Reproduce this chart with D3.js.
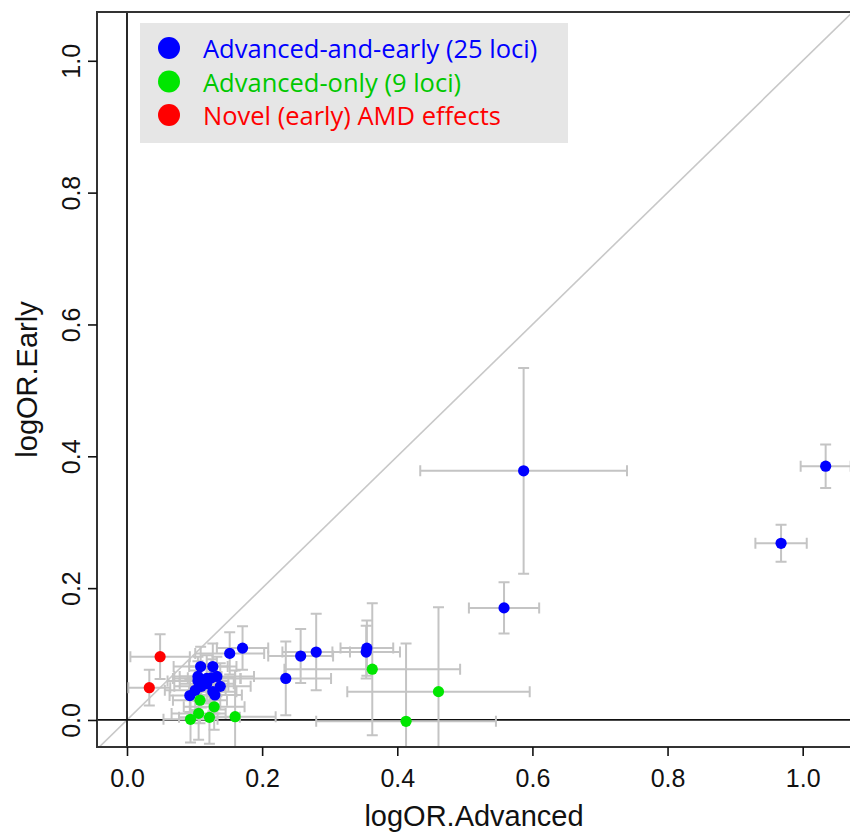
<!DOCTYPE html>
<html><head><meta charset="utf-8">
<script src="https://cdn.jsdelivr.net/npm/d3@7"></script>
<style>body{margin:0;background:#fff}</style>
</head><body>
<svg id="c" width="850" height="832"></svg>
<script>
// ---- data ----
const legendLabels = ["Advanced-and-early (25 loci)", "Advanced-only (9 loci)", "Novel (early) AMD effects"];
const xTicks = [0.0, 0.2, 0.4, 0.6, 0.8, 1.0];
const yTicks = [0.0, 0.2, 0.4, 0.6, 0.8, 1.0];

const blueX   = [1.034,0.968,0.587,0.558,0.355,0.354,0.280,0.257,0.235,0.171,0.152,0.109,0.127,0.105,0.118,0.133,0.125,0.110,0.138,0.127,0.093,0.101,0.118,0.105,0.130];
const blueY   = [0.385,0.268,0.378,0.170,0.109,0.103,0.103,0.097,0.063,0.109,0.101,0.081,0.081,0.059,0.063,0.066,0.064,0.051,0.051,0.043,0.037,0.045,0.055,0.066,0.038];
const blueXE  = [0.037,0.038,0.153,0.052,0.039,0.050,0.050,0.048,0.067,0.038,0.051,0.040,0.035,0.045,0.050,0.055,0.035,0.040,0.045,0.035,0.030,0.045,0.040,0.035,0.040];
const blueYE  = [0.033,0.028,0.156,0.039,0.042,0.040,0.058,0.041,0.056,0.033,0.032,0.030,0.035,0.030,0.035,0.030,0.028,0.032,0.035,0.030,0.025,0.030,0.030,0.030,0.028];

const greenX  = [0.363,0.461,0.413,0.160,0.108,0.129,0.106,0.094,0.122];
const greenY  = [0.077,0.043,-0.002,0.005,0.030,0.020,0.010,0.001,0.004];
const greenXE = [0.130,0.135,0.133,0.060,0.040,0.045,0.040,0.040,0.045];
const greenYE = [0.100,0.128,0.118,0.070,0.035,0.035,0.040,0.035,0.040];

const redX  = [0.049,0.033];
const redY  = [0.096,0.049];
const redXE = [0.044,0.031];
const redYE = [0.034,0.027];

const colors = ["#0000ff", "#00e600", "#ff0000"];
const legendText = ["#0000ff", "#00c800", "#ff0000"];

// ---- build ----
function series(xs, ys, xe, ye, g){ return xs.map((x,i)=>({x, y:ys[i], xe:xe[i], ye:ye[i], g})); }
const pts = [].concat(series(blueX,blueY,blueXE,blueYE,0), series(greenX,greenY,greenXE,greenYE,1), series(redX,redY,redXE,redYE,2));

const L=97, R=851, T=12, B=747;
const x = d3.scaleLinear().domain([-0.0444, 1.0715]).range([L, R]);
const y = d3.scaleLinear().domain([-0.041, 1.074]).range([B, T]);

const svg = d3.select("#c");
svg.append("defs").append("clipPath").attr("id","clip").append("rect")
  .attr("x",L).attr("y",T).attr("width",R-L).attr("height",B-T);

const plot = svg.append("g").attr("clip-path","url(#clip)");
// diagonal y = x
plot.append("line").attr("x1",x(-0.0444)).attr("y1",y(-0.0444)).attr("x2",x(1.2)).attr("y2",y(1.2))
  .attr("stroke","#c8c8c8").attr("stroke-width",1.6);
// zero lines
plot.append("line").attr("x1",L).attr("x2",R).attr("y1",y(0)).attr("y2",y(0)).attr("stroke","#111").attr("stroke-width",1.8);
plot.append("line").attr("y1",T).attr("y2",B).attr("x1",x(0)).attr("x2",x(0)).attr("stroke","#111").attr("stroke-width",1.8);

// error bars
const eb = plot.append("g").attr("stroke","#c4c4c4").attr("stroke-width",2).attr("fill","none");
const cap = 5.5;
pts.forEach(d=>{
  const cx=x(d.x), cy=y(d.y), x0=x(d.x-d.xe), x1=x(d.x+d.xe), y0=y(d.y-d.ye), y1=y(d.y+d.ye);
  eb.append("path").attr("d",
    `M${x0},${cy}H${x1}M${x0},${cy-cap}V${cy+cap}M${x1},${cy-cap}V${cy+cap}` +
    `M${cx},${y0}V${y1}M${cx-cap},${y0}H${cx+cap}M${cx-cap},${y1}H${cx+cap}`);
});
// points
plot.append("g").selectAll("circle").data(pts).join("circle")
  .attr("cx",d=>x(d.x)).attr("cy",d=>y(d.y)).attr("r",5.6).attr("fill",d=>colors[d.g]);

// box
svg.append("rect").attr("x",L).attr("y",T).attr("width",R-L).attr("height",B-T)
  .attr("fill","none").attr("stroke","#333").attr("stroke-width",2);

// axes
const font = "'Liberation Sans', Arial, sans-serif";
const xa = svg.append("g").attr("transform",`translate(0,${B})`)
  .call(d3.axisBottom(x).tickValues(xTicks).tickFormat(d3.format(".1f")).tickSize(9).tickSizeOuter(0));
xa.select(".domain").remove();
xa.selectAll("line").attr("stroke","#111").attr("stroke-width",1.6);
xa.selectAll("text").attr("font-family",font).attr("font-size",25).attr("fill","#111").attr("dy",null).attr("y",40);

const ya = svg.append("g").attr("transform",`translate(${L},0)`)
  .call(d3.axisLeft(y).tickValues(yTicks).tickFormat(d3.format(".1f")).tickSize(9).tickSizeOuter(0));
ya.select(".domain").remove();
ya.selectAll("line").attr("stroke","#111").attr("stroke-width",1.6);
ya.selectAll("text").attr("font-family",font).attr("font-size",25).attr("fill","#111")
  .attr("x",null).attr("dy",null).attr("text-anchor","middle")
  .attr("transform","translate(-17,0) rotate(-90)");

svg.append("text").attr("x",(L+R)/2).attr("y",826).attr("text-anchor","middle")
  .attr("font-family",font).attr("font-size",29).attr("fill","#111").text("logOR.Advanced");
svg.append("text").attr("transform",`translate(37,${(T+B)/2}) rotate(-90)`).attr("text-anchor","middle")
  .attr("font-family",font).attr("font-size",29).attr("fill","#111").text("logOR.Early");

// legend
const lg = svg.append("g");
lg.append("rect").attr("x",140).attr("y",23).attr("width",428).attr("height",120).attr("fill","#e6e6e6");
legendLabels.forEach((t,i)=>{
  const cy = 48 + i*33.5;
  lg.append("circle").attr("cx",169).attr("cy",cy).attr("r",11).attr("fill",colors[i]);
  lg.append("text").attr("x",203).attr("y",cy+10).attr("font-family","'Open Sans', Lato, sans-serif")
    .attr("font-size",25.5).attr("fill",legendText[i]).text(t);
});
</script>
</body></html>
